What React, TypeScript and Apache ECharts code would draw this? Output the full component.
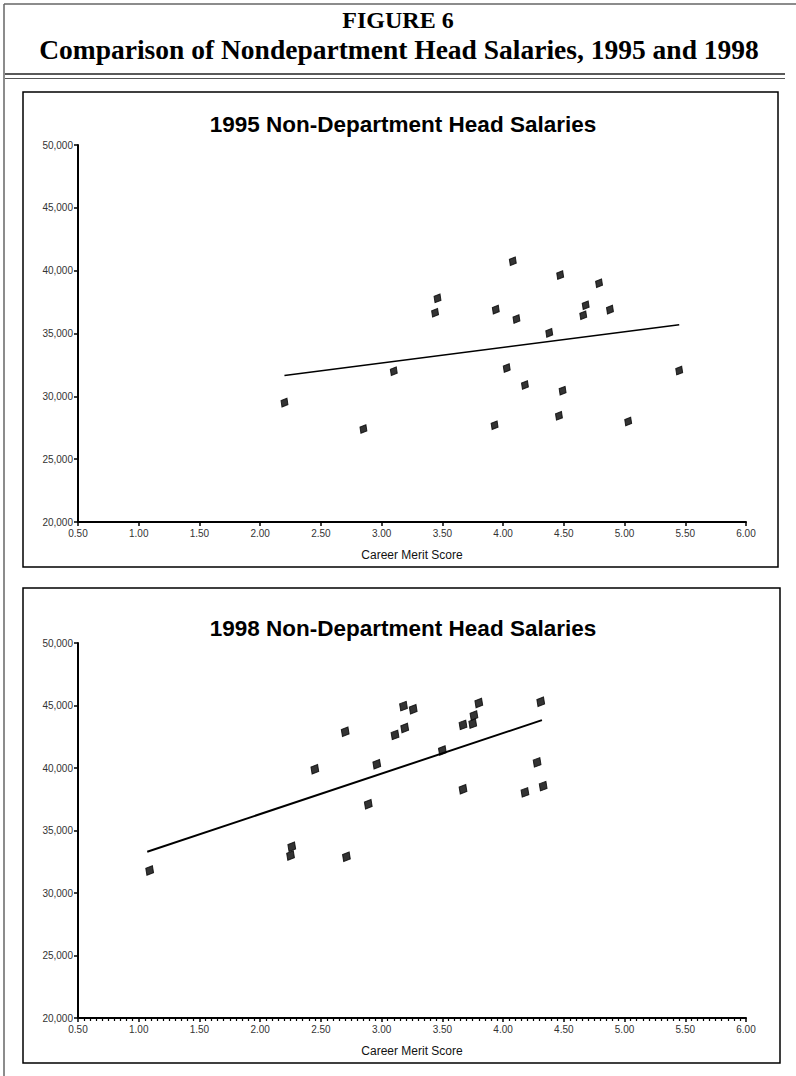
import React, { useEffect, useRef } from "react";
import * as echarts from "echarts";

// ---- Data ----
const xTicks = [0.5, 1, 1.5, 2, 2.5, 3, 3.5, 4, 4.5, 5, 5.5, 6];
const yTicks = [20000, 25000, 30000, 35000, 40000, 45000, 50000];

const merit1995 = [2.2, 2.85, 3.1, 3.46, 3.44, 3.94, 3.93, 4.03, 4.08, 4.11, 4.18, 4.38, 4.46, 4.47, 4.49, 4.66, 4.68, 4.79, 4.88, 5.03, 5.45];
const salary1995 = [29500, 27400, 32000, 37800, 36650, 36900, 27700, 32250, 40750, 36150, 30900, 35050, 28450, 39650, 30450, 36450, 37250, 39000, 36900, 28000, 32050];
const trend1995 = [[2.2, 31650], [5.45, 35700]];

const merit1998 = [1.09, 2.25, 2.26, 2.45, 2.7, 2.71, 2.89, 2.96, 3.11, 3.18, 3.19, 3.26, 3.5, 3.67, 3.67, 3.75, 3.76, 3.8, 4.18, 4.28, 4.31, 4.33];
const salary1998 = [31800, 33000, 33700, 39900, 42900, 32900, 37100, 40300, 42650, 44950, 43200, 44700, 41400, 43450, 38300, 43550, 44200, 45200, 38050, 40450, 45300, 38550];
const trend1998 = [[1.07, 33300], [4.32, 43830]];

const figureLabel = "FIGURE 6";
const figureTitle = "Comparison of Nondepartment Head Salaries, 1995 and 1998";
const chartTitles = ["1995 Non-Department Head Salaries", "1998 Non-Department Head Salaries"];
const xName = "Career Merit Score";

const SANS = "'Liberation Sans', Arial, sans-serif";
const SERIF = "'Liberation Serif', 'Times New Roman', serif";

function makeX(gridIndex: number, minor: boolean) {
  return {
    type: "value",
    gridIndex,
    min: xTicks[0],
    max: xTicks[xTicks.length - 1],
    interval: 0.5,
    name: xName,
    nameLocation: "middle",
    nameGap: 27,
    nameTextStyle: { fontFamily: SANS, fontSize: 12, color: "#111" },
    axisLine: { show: true, onZero: false, lineStyle: { color: "#000", width: 2 } },
    axisTick: { show: true, length: 4, lineStyle: { color: "#000", width: 1.5 } },
    minorTick: { show: minor, splitNumber: 10, length: 3, lineStyle: { color: "#000", width: 1.2 } },
    axisLabel: { fontFamily: SANS, fontSize: 10, color: "#333", margin: 6, formatter: (v: number) => v.toFixed(2) },
    splitLine: { show: false },
  };
}

function makeY(gridIndex: number) {
  return {
    type: "value",
    gridIndex,
    min: yTicks[0],
    max: yTicks[yTicks.length - 1],
    interval: 5000,
    axisLine: { show: true, onZero: false, lineStyle: { color: "#000", width: 2 } },
    axisTick: { show: true, length: 4, lineStyle: { color: "#000", width: 1.5 } },
    axisLabel: { fontFamily: SANS, fontSize: 10, color: "#333", margin: 5, formatter: (v: number) => v.toLocaleString("en-US") },
    splitLine: { show: false },
  };
}

const markerStyle = { color: "#000", borderColor: "#000", borderWidth: 1 };

export default function App() {
  const ref = useRef<HTMLDivElement>(null);
  useEffect(() => {
    if (!ref.current) return;
    const chart = echarts.init(ref.current, null, { renderer: "svg" });
    const pts1995 = merit1995.map((m, i) => [m, salary1995[i]]);
    const pts1998 = merit1998.map((m, i) => [m, salary1998[i]]);
    chart.setOption({
      animation: false,
      backgroundColor: "#fff",
      grid: [
        { left: 78, right: 50, top: 145, height: 377 },
        { left: 78, right: 50, top: 643, height: 375 },
      ],
      xAxis: [makeX(0, false), makeX(1, true)],
      yAxis: [makeY(0), makeY(1)],
      series: [
        {
          type: "line", xAxisIndex: 0, yAxisIndex: 0, data: trend1995, symbol: "none",
          lineStyle: { color: "#000", width: 1.5 }, z: 2,
        },
        {
          type: "scatter", xAxisIndex: 0, yAxisIndex: 0, data: pts1995, symbol: "diamond",
          symbolSize: [8, 10], symbolRotate: -30, itemStyle: markerStyle, z: 3,
        },
        {
          type: "line", xAxisIndex: 1, yAxisIndex: 1, data: trend1998, symbol: "none",
          lineStyle: { color: "#000", width: 2 }, z: 2,
        },
        {
          type: "scatter", xAxisIndex: 1, yAxisIndex: 1, data: pts1998, symbol: "diamond",
          symbolSize: [9, 11], symbolRotate: -30, itemStyle: markerStyle, z: 3,
        },
      ],
      graphic: [
        { type: "line", shape: { x1: 4, y1: 4, x2: 796, y2: 4 }, style: { stroke: "#666", lineWidth: 1.5 } },
        { type: "line", shape: { x1: 4, y1: 4, x2: 4, y2: 1076 }, style: { stroke: "#666", lineWidth: 1.5 } },
        {
          type: "text", x: 398, y: 20,
          style: { text: figureLabel, textAlign: "center", textVerticalAlign: "middle", font: `bold 24px ${SERIF}`, fill: "#000" },
        },
        {
          type: "text", x: 399, y: 49,
          style: { text: figureTitle, textAlign: "center", textVerticalAlign: "middle", font: `bold 27.5px ${SERIF}`, fill: "#000" },
        },
        { type: "line", shape: { x1: 5, y1: 74, x2: 785, y2: 74 }, style: { stroke: "#222", lineWidth: 1.5 } },
        { type: "line", shape: { x1: 5, y1: 78.5, x2: 785, y2: 78.5 }, style: { stroke: "#555", lineWidth: 1 } },
        { type: "rect", shape: { x: 23, y: 92, width: 755, height: 475 }, style: { fill: "none", stroke: "#000", lineWidth: 1.5 } },
        { type: "rect", shape: { x: 23, y: 588, width: 757, height: 475 }, style: { fill: "none", stroke: "#000", lineWidth: 1.5 } },
        {
          type: "text", x: 403, y: 124,
          style: { text: chartTitles[0], textAlign: "center", textVerticalAlign: "middle", font: `bold 22.5px ${SANS}`, fill: "#000" },
        },
        {
          type: "text", x: 403, y: 628,
          style: { text: chartTitles[1], textAlign: "center", textVerticalAlign: "middle", font: `bold 22.5px ${SANS}`, fill: "#000" },
        },
      ],
    });
    return () => chart.dispose();
  }, []);
  return (
    <div
      ref={ref}
      style={{ position: "absolute", left: 0, top: 0, width: 796, height: 1076, background: "#fff" }}
    />
  );
}
